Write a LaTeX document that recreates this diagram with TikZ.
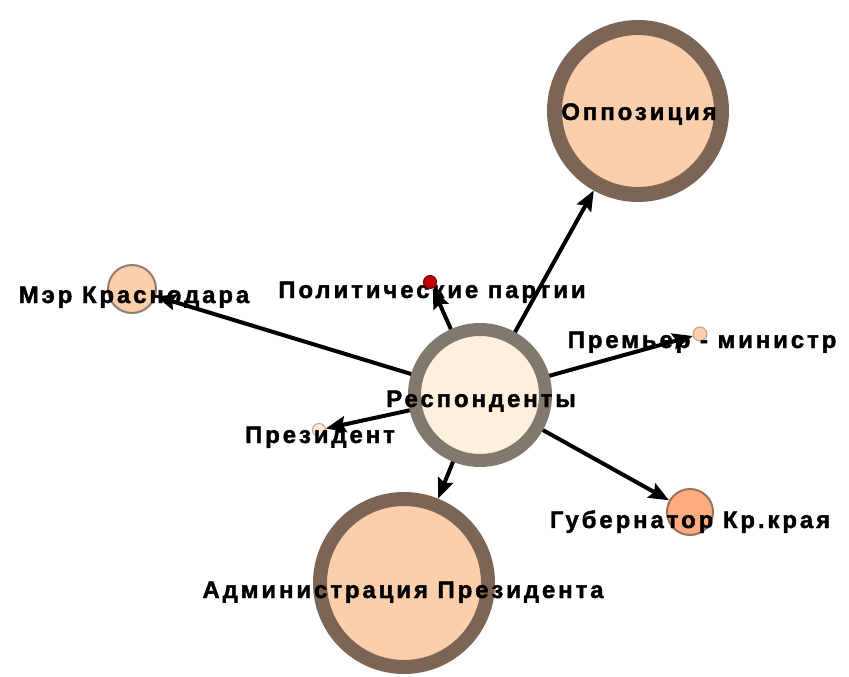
\documentclass[tikz,border=0pt]{standalone}
\usepackage{fontspec}
\setmainfont{Liberation Sans}
\newfontfamily\lblfont[LetterSpace=12,FakeBold=1.6]{Liberation Sans Bold}
\usetikzlibrary{arrows.meta}

\definecolor{peach}{RGB}{251,207,172}
\definecolor{ringbrown}{RGB}{125,101,86}
\definecolor{cream}{RGB}{255,239,219}
\definecolor{ringgray}{RGB}{128,121,110}
\definecolor{orangefill}{RGB}{252,172,128}
\definecolor{orangeedge}{RGB}{160,110,85}
\definecolor{partyred}{RGB}{192,0,0}
\definecolor{partyedge}{RGB}{120,0,0}
\definecolor{paleedge}{RGB}{185,165,145}
\definecolor{paleskin}{RGB}{255,234,210}

\tikzset{
  actor/.style={circle, inner sep=0pt},
  lbl/.style={font=\lblfont\fontsize{24}{24}\selectfont, anchor=base, inner sep=0pt},
  tie/.style={line width=4pt, -{Stealth[length=20pt,width=16pt,inset=3pt]}},
}

\begin{document}
\begin{tikzpicture}[x=1pt,y=-1pt]
\useasboundingbox (0,0) rectangle (849,677);

% actors
\node[actor, draw=ringgray, line width=13pt, fill=cream, minimum size=131pt] (resp) at (480,395) {};
\node[actor, draw=ringbrown, line width=15pt, fill=peach, minimum size=167pt] (opp) at (638,111) {};
\node[actor, draw=ringbrown, line width=14pt, fill=peach, minimum size=168pt] (adm) at (404,583) {};
\node[actor, draw=ringbrown!85, line width=2pt, fill=peach, minimum size=48pt] (mayor) at (132,289) {};
\node[actor, draw=orangeedge, line width=2pt, fill=orangefill, minimum size=46pt] (gov) at (690,512) {};
\node[actor, draw=paleedge, line width=1pt, fill=peach, minimum size=14pt] (prem) at (700,334) {};
\node[actor, draw=paleedge, line width=1pt, fill=paleskin, minimum size=13pt] (pres) at (319,430) {};

% labels
\node[lbl] (toppo) at (639,120) {Оппозиция};
\node[lbl] (tresp) at (481,407) {Респонденты};
\node[lbl] (tparty) at (432,298) {Политические партии};
\node[lbl] (tmayor) at (134,303) {Мэр Краснодара};
\node[lbl] (tprem) at (702,348) {Премьер - министр};
\node[lbl] (tpres) at (320,443) {Президент};
\node[lbl] (tgov) at (690,528) {Губернатор Кр.края};
\node[lbl] (tadm) at (403,598) {Администрация Президента};

\node[actor, draw=partyedge, line width=1pt, fill=partyred, minimum size=13pt] (party) at (430,282) {};

% ties from the respondents
\draw[tie] (resp) -- (opp);
\draw[tie] (resp) -- (adm);
\draw[tie] (resp) -- (mayor);
\draw[tie] (resp) -- (gov);
\draw[tie] (resp) -- (prem);
\draw[tie] (resp) -- (pres);
\draw[tie] (resp) -- (party);
\end{tikzpicture}
\end{document}
